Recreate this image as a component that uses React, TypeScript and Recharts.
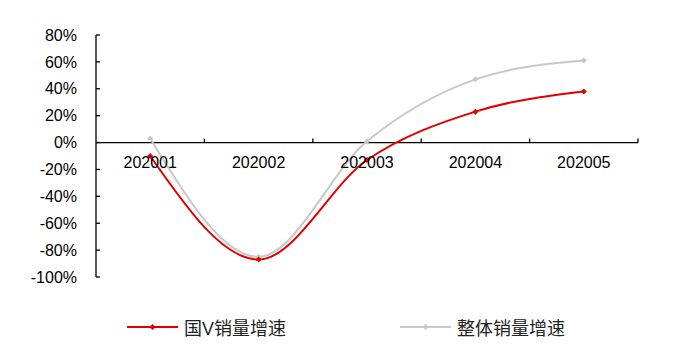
import React from "react";
import {
  LineChart,
  Line,
  XAxis,
  YAxis,
  ReferenceLine,
  Legend,
} from "recharts";

const months = ["202001", "202002", "202003", "202004", "202005"];
const guoV = [-10, -87, -13, 23, 38];
const overall = [3, -85, 1, 47, 61];
const yTicks = [-100, -80, -60, -40, -20, 0, 20, 40, 60, 80];

const data = months.map((m, i) => ({ month: m, guoV: guoV[i], overall: overall[i] }));

const W = 681;
const H = 351;
const margin = { top: 35, right: 43, left: 0, bottom: 14 };
const Y_AXIS_W = 96;
const X_AXIS_H = 40;
const LEGEND_H = 20;
const PLOT_W = W - margin.left - margin.right - Y_AXIS_W;
const PLOT_H = H - margin.top - margin.bottom - X_AXIS_H - LEGEND_H;
const Y_MIN = -100;
const Y_MAX = 80;
const ZERO_Y = margin.top + (Y_MAX / (Y_MAX - Y_MIN)) * PLOT_H;
const BAND = PLOT_W / months.length;

const RED = "#e00000";
const GRAY = "#c8c8c8";
const FONT = '"Liberation Sans", Arial, "Noto Sans CJK SC", sans-serif';

function Diamond({ cx, cy, color }: { cx?: number; cy?: number; color: string }) {
  if (cx == null || cy == null) return null;
  const r = 3;
  return (
    <polygon
      points={`${cx},${cy - r} ${cx + r},${cy} ${cx},${cy + r} ${cx - r},${cy}`}
      fill={color}
      stroke="none"
    />
  );
}

function MonthTick(props: any) {
  const { x, payload } = props;
  const edge = x + BAND / 2;
  return (
    <g>
      <line x1={edge} x2={edge} y1={ZERO_Y - 4} y2={ZERO_Y} stroke="#000" strokeWidth={1.3} />
      <text
        x={x}
        y={ZERO_Y + 20}
        textAnchor="middle"
        dominantBaseline="central"
        fontSize={16}
        fontFamily={FONT}
        fill="#000"
      >
        {payload.value}
      </text>
    </g>
  );
}

function LegendItem({ color, label, width }: { color: string; label: string; width?: number }) {
  return (
    <div style={{ display: "flex", alignItems: "center", width }}>
      <svg width={51} height={10} style={{ marginRight: 6 }}>
        <line x1={0} x2={51} y1={5} y2={5} stroke={color} strokeWidth={2} />
        <polygon points="25.5,2 28.5,5 25.5,8 22.5,5" fill={color} />
      </svg>
      <span style={{ fontSize: 18, color: "#222", fontFamily: FONT }}>{label}</span>
    </div>
  );
}

function renderLegend() {
  return (
    <div style={{ display: "flex", alignItems: "center", height: LEGEND_H, paddingLeft: 127 }}>
      <LegendItem color={RED} label="国V销量增速" width={273} />
      <LegendItem color={GRAY} label="整体销量增速" />
    </div>
  );
}

export default function App() {
  return (
    <div style={{ position: "absolute", left: 0, top: 0, background: "#fff" }}>
      <LineChart width={W} height={H} data={data} margin={margin}>
        <XAxis
          dataKey="month"
          height={X_AXIS_H}
          axisLine={false}
          tickLine={false}
          tick={<MonthTick />}
          interval={0}
          padding={{ left: BAND / 2, right: BAND / 2 }}
        />
        <YAxis
          width={Y_AXIS_W}
          domain={[Y_MIN, Y_MAX]}
          ticks={yTicks}
          tickFormatter={(v: number) => `${v}%`}
          tickSize={-4}
          tickMargin={23}
          axisLine={{ stroke: "#000", strokeWidth: 1.3 }}
          tickLine={{ stroke: "#000", strokeWidth: 1.3 }}
          tick={{ fill: "#000", fontSize: 16, fontFamily: FONT }}
          interval={0}
        />
        <ReferenceLine y={0} stroke="#000" strokeWidth={1.3} />
        <Line
          dataKey="overall"
          type="monotone"
          stroke={GRAY}
          strokeWidth={2}
          dot={(p: any) => <Diamond key={`o${p.index}`} cx={p.cx} cy={p.cy} color={GRAY} />}
          activeDot={false}
          isAnimationActive={false}
        />
        <Line
          dataKey="guoV"
          type="monotone"
          stroke={RED}
          strokeWidth={2}
          dot={(p: any) => <Diamond key={`g${p.index}`} cx={p.cx} cy={p.cy} color={RED} />}
          activeDot={false}
          isAnimationActive={false}
        />
        <Legend
          verticalAlign="bottom"
          height={LEGEND_H}
          content={renderLegend}
          wrapperStyle={{ left: 0, width: W }}
        />
      </LineChart>
    </div>
  );
}
